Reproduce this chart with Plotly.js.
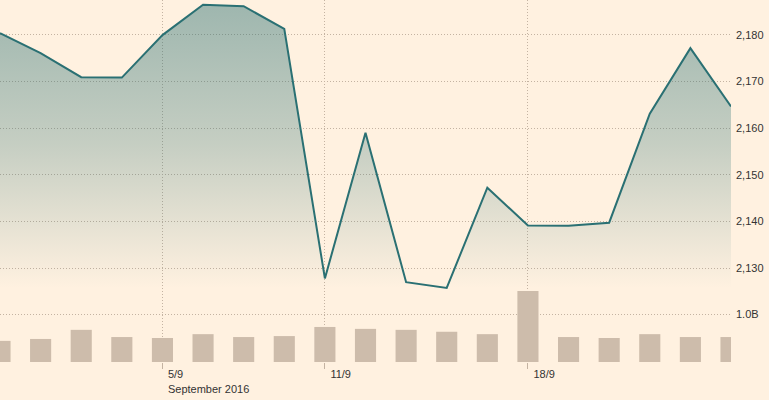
<!DOCTYPE html>
<html><head><meta charset="utf-8">
<script src="https://cdn.plot.ly/plotly-3.0.1.min.js"></script>
<style>html,body{margin:0;padding:0;background:#fff1e0;}#chart{width:769px;height:400px;}</style>
</head><body><div id="chart"></div>
<script>
const dates = ["29/8","30/8","31/8","1/9","2/9","6/9","7/9","8/9","9/9","12/9","13/9","14/9","15/9","16/9","19/9","20/9","21/9","22/9","23/9"];
const closePrice = [2180.38,2176.12,2170.95,2170.86,2179.98,2186.48,2186.16,2181.30,2127.81,2159.04,2127.02,2125.77,2147.26,2139.16,2139.12,2139.76,2163.12,2177.18,2164.69];
const volumeB = [0.44,0.48,0.67,0.52,0.50,0.58,0.52,0.54,0.73,0.69,0.67,0.63,0.58,1.48,0.52,0.50,0.58,0.52,0.52];
const xTickVals = ["2/9","9/9","16/9"];
const xTickText = ["5/9<br>September 2016","11/9","18/9"];
const priceTicks = [2130,2140,2150,2160,2170,2180];
const volTicks = [1.0];
const volTickText = ["1.0B"];

const minPrice = Math.min(...closePrice);
const gridColor = "#c4b3a2";
const gridDash = "1px,2px";
const tickFont = {family: "Liberation Sans, Arial, sans-serif", size: 11, color: "#333333"};

const traces = [
  {
    type: "bar", x: dates, y: volumeB, yaxis: "y2",
    marker: {color: "#cdbcab", line: {width: 0}},
    hoverinfo: "skip"
  },
  {
    type: "scatter", mode: "lines", x: dates, y: dates.map(() => minPrice),
    line: {width: 0, color: "rgba(0,0,0,0)"}, hoverinfo: "skip"
  },
  {
    type: "scatter", mode: "lines", x: dates, y: closePrice,
    fill: "tonexty",
    fillgradient: {
      type: "vertical", start: minPrice, stop: 2187.5,
      colorscale: [[0, "rgba(42,112,115,0)"], [0.5, "rgba(42,112,115,0.27)"], [1, "rgba(42,112,115,0.46)"]]
    },
    line: {color: "#2a7073", width: 2}
  }
];

const layout = {
  width: 769, height: 400,
  margin: {l: 0, r: 38, t: 0, b: 38, pad: 0},
  paper_bgcolor: "#fff1e0", plot_bgcolor: "#fff1e0",
  showlegend: false,
  bargap: 0.48,
  font: tickFont,
  xaxis: {
    type: "category", range: [0, dates.length - 1],
    tickvals: xTickVals, ticktext: xTickText,
    showgrid: true, gridcolor: gridColor, griddash: gridDash, gridwidth: 1,
    ticks: "outside", ticklen: 6, tickcolor: gridColor, tickwidth: 1,
    ticklabelposition: "outside right", ticklabelshift: 5, ticklabelstandoff: 2,
    zeroline: false, showline: false, tickfont: tickFont, fixedrange: true
  },
  yaxis: {
    side: "right", range: [2109.9, 2187.5],
    tickvals: priceTicks, tickformat: ",d",
    showgrid: true, gridcolor: gridColor, griddash: gridDash, gridwidth: 1,
    zeroline: false, showline: false, ticks: "", ticklabelstandoff: 4,
    tickfont: tickFont, fixedrange: true
  },
  yaxis2: {
    overlaying: "y", side: "right", range: [0, 362 / 48],
    tickvals: volTicks, ticktext: volTickText,
    showgrid: true, gridcolor: gridColor, griddash: gridDash, gridwidth: 1,
    zeroline: false, showline: false, ticks: "", ticklabelstandoff: 4,
    tickfont: tickFont, fixedrange: true
  }
};

Plotly.newPlot("chart", traces, layout, {displayModeBar: false, staticPlot: true});
</script>
</body></html>
